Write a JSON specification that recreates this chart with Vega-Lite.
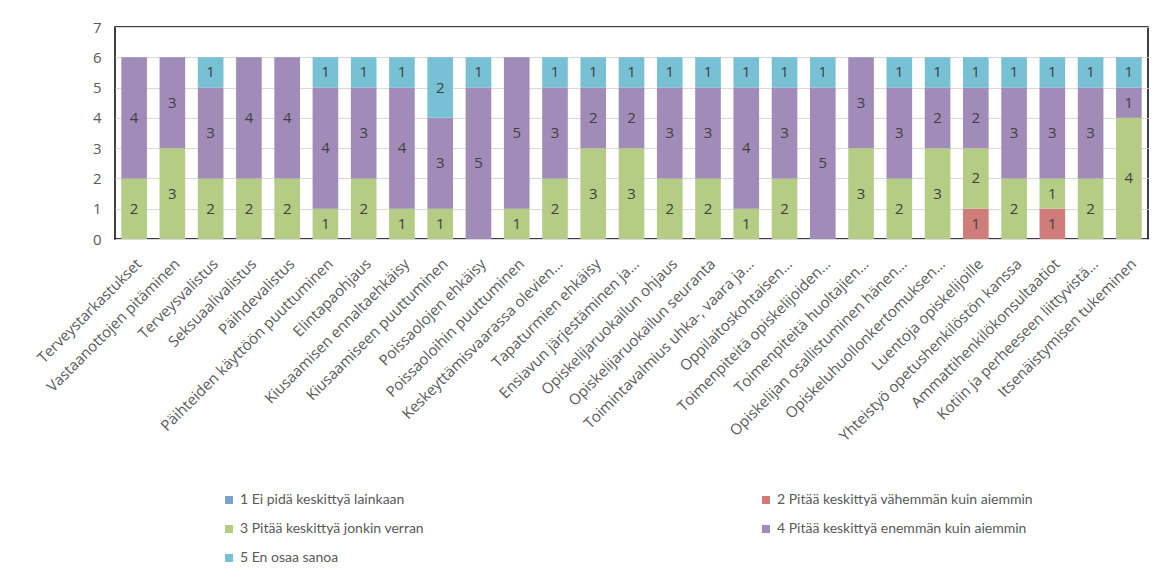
{
  "$schema": "https://vega.github.io/schema/vega-lite/v6.json",
  "autosize": "none",
  "width": 1033,
  "height": 212,
  "padding": {"left": 115, "top": 27, "right": 18, "bottom": 337},
  "background": "white",
  "config": {
    "font": "Open Sans",
    "view": {"stroke": "#000000", "strokeWidth": 1.5},
    "axis": {"labelFont": "Open Sans", "labelColor": "#595959"},
    "legend": {"labelFont": "Lato", "labelColor": "#595959"}
  },
  "data": {
    "values": [
      {"cat": "Terveystarkastukset", "code": 3, "value": 2},
      {"cat": "Terveystarkastukset", "code": 4, "value": 4},
      {"cat": "Vastaanottojen pitäminen", "code": 3, "value": 3},
      {"cat": "Vastaanottojen pitäminen", "code": 4, "value": 3},
      {"cat": "Terveysvalistus", "code": 3, "value": 2},
      {"cat": "Terveysvalistus", "code": 4, "value": 3},
      {"cat": "Terveysvalistus", "code": 5, "value": 1},
      {"cat": "Seksuaalivalistus", "code": 3, "value": 2},
      {"cat": "Seksuaalivalistus", "code": 4, "value": 4},
      {"cat": "Päihdevalistus", "code": 3, "value": 2},
      {"cat": "Päihdevalistus", "code": 4, "value": 4},
      {"cat": "Päihteiden käyttöön puuttuminen", "code": 3, "value": 1},
      {"cat": "Päihteiden käyttöön puuttuminen", "code": 4, "value": 4},
      {"cat": "Päihteiden käyttöön puuttuminen", "code": 5, "value": 1},
      {"cat": "Elintapaohjaus", "code": 3, "value": 2},
      {"cat": "Elintapaohjaus", "code": 4, "value": 3},
      {"cat": "Elintapaohjaus", "code": 5, "value": 1},
      {"cat": "Kiusaamisen ennaltaehkäisy", "code": 3, "value": 1},
      {"cat": "Kiusaamisen ennaltaehkäisy", "code": 4, "value": 4},
      {"cat": "Kiusaamisen ennaltaehkäisy", "code": 5, "value": 1},
      {"cat": "Kiusaamiseen puuttuminen", "code": 3, "value": 1},
      {"cat": "Kiusaamiseen puuttuminen", "code": 4, "value": 3},
      {"cat": "Kiusaamiseen puuttuminen", "code": 5, "value": 2},
      {"cat": "Poissaolojen ehkäisy", "code": 4, "value": 5},
      {"cat": "Poissaolojen ehkäisy", "code": 5, "value": 1},
      {"cat": "Poissaoloihin puuttuminen", "code": 3, "value": 1},
      {"cat": "Poissaoloihin puuttuminen", "code": 4, "value": 5},
      {"cat": "Keskeyttämisvaarassa olevien…", "code": 3, "value": 2},
      {"cat": "Keskeyttämisvaarassa olevien…", "code": 4, "value": 3},
      {"cat": "Keskeyttämisvaarassa olevien…", "code": 5, "value": 1},
      {"cat": "Tapaturmien ehkäisy", "code": 3, "value": 3},
      {"cat": "Tapaturmien ehkäisy", "code": 4, "value": 2},
      {"cat": "Tapaturmien ehkäisy", "code": 5, "value": 1},
      {"cat": "Ensiavun järjestäminen ja…", "code": 3, "value": 3},
      {"cat": "Ensiavun järjestäminen ja…", "code": 4, "value": 2},
      {"cat": "Ensiavun järjestäminen ja…", "code": 5, "value": 1},
      {"cat": "Opiskelijaruokailun ohjaus", "code": 3, "value": 2},
      {"cat": "Opiskelijaruokailun ohjaus", "code": 4, "value": 3},
      {"cat": "Opiskelijaruokailun ohjaus", "code": 5, "value": 1},
      {"cat": "Opiskelijaruokailun seuranta", "code": 3, "value": 2},
      {"cat": "Opiskelijaruokailun seuranta", "code": 4, "value": 3},
      {"cat": "Opiskelijaruokailun seuranta", "code": 5, "value": 1},
      {"cat": "Toimintavalmius uhka-, vaara ja…", "code": 3, "value": 1},
      {"cat": "Toimintavalmius uhka-, vaara ja…", "code": 4, "value": 4},
      {"cat": "Toimintavalmius uhka-, vaara ja…", "code": 5, "value": 1},
      {"cat": "Oppilaitoskohtaisen…", "code": 3, "value": 2},
      {"cat": "Oppilaitoskohtaisen…", "code": 4, "value": 3},
      {"cat": "Oppilaitoskohtaisen…", "code": 5, "value": 1},
      {"cat": "Toimenpiteitä opiskelijoiden…", "code": 4, "value": 5},
      {"cat": "Toimenpiteitä opiskelijoiden…", "code": 5, "value": 1},
      {"cat": "Toimenpiteitä huoltajien…", "code": 3, "value": 3},
      {"cat": "Toimenpiteitä huoltajien…", "code": 4, "value": 3},
      {"cat": "Opiskelijan osallistuminen hänen…", "code": 3, "value": 2},
      {"cat": "Opiskelijan osallistuminen hänen…", "code": 4, "value": 3},
      {"cat": "Opiskelijan osallistuminen hänen…", "code": 5, "value": 1},
      {"cat": "Opiskeluhuollonkertomuksen…", "code": 3, "value": 3},
      {"cat": "Opiskeluhuollonkertomuksen…", "code": 4, "value": 2},
      {"cat": "Opiskeluhuollonkertomuksen…", "code": 5, "value": 1},
      {"cat": "Luentoja opiskelijoille", "code": 2, "value": 1},
      {"cat": "Luentoja opiskelijoille", "code": 3, "value": 2},
      {"cat": "Luentoja opiskelijoille", "code": 4, "value": 2},
      {"cat": "Luentoja opiskelijoille", "code": 5, "value": 1},
      {"cat": "Yhteistyö opetushenkilöstön kanssa", "code": 3, "value": 2},
      {"cat": "Yhteistyö opetushenkilöstön kanssa", "code": 4, "value": 3},
      {"cat": "Yhteistyö opetushenkilöstön kanssa", "code": 5, "value": 1},
      {"cat": "Ammattihenkilökonsultaatiot", "code": 2, "value": 1},
      {"cat": "Ammattihenkilökonsultaatiot", "code": 3, "value": 1},
      {"cat": "Ammattihenkilökonsultaatiot", "code": 4, "value": 3},
      {"cat": "Ammattihenkilökonsultaatiot", "code": 5, "value": 1},
      {"cat": "Kotiin ja perheeseen liittyvistä…", "code": 3, "value": 2},
      {"cat": "Kotiin ja perheeseen liittyvistä…", "code": 4, "value": 3},
      {"cat": "Kotiin ja perheeseen liittyvistä…", "code": 5, "value": 1},
      {"cat": "Itsenäistymisen tukeminen", "code": 3, "value": 4},
      {"cat": "Itsenäistymisen tukeminen", "code": 4, "value": 1},
      {"cat": "Itsenäistymisen tukeminen", "code": 5, "value": 1}
    ]
  },
  "transform": [
    {"lookup": "code", "from": {"data": {"values": [
      {"code": 1, "vastaus": "1 Ei pidä keskittyä lainkaan"},
      {"code": 2, "vastaus": "2 Pitää keskittyä vähemmän kuin aiemmin"},
      {"code": 3, "vastaus": "3 Pitää keskittyä jonkin verran"},
      {"code": 4, "vastaus": "4 Pitää keskittyä enemmän kuin aiemmin"},
      {"code": 5, "vastaus": "5 En osaa sanoa"}
    ]}, "key": "code", "fields": ["vastaus"]}},
    {"stack": "value", "groupby": ["cat"], "sort": [{"field": "code", "order": "ascending"}], "as": ["y0", "y1"]},
    {"calculate": "(datum.y0 + datum.y1) / 2", "as": "ymid"}
  ],
  "encoding": {
    "x": {
      "field": "cat",
      "type": "nominal",
      "sort": null,
      "title": null,
      "scale": {"paddingInner": 0.33, "paddingOuter": 0.165},
      "axis": {"labelAngle": -45, "labelFontSize": 15, "labelLimit": 400, "ticks": false, "domain": false, "labelPadding": 17}
    }
  },
  "layer": [
    {
      "mark": {"type": "bar"},
      "encoding": {
        "y": {
          "field": "y0",
          "type": "quantitative",
          "title": null,
          "scale": {"domain": [0, 7], "nice": false},
          "axis": {"values": [0, 1, 2, 3, 4, 5, 6, 7], "labelOverlap": false, "grid": true, "gridColor": "#d9d9d9", "domain": false, "ticks": false, "labelFontSize": 15, "labelPadding": 14}
        },
        "y2": {"field": "y1"},
        "color": {
          "field": "vastaus",
          "type": "nominal",
          "title": null,
          "scale": {
            "domain": ["1 Ei pidä keskittyä lainkaan", "2 Pitää keskittyä vähemmän kuin aiemmin", "3 Pitää keskittyä jonkin verran", "4 Pitää keskittyä enemmän kuin aiemmin", "5 En osaa sanoa"],
            "range": ["#7ba1ce", "#d07c7a", "#b4cc83", "#a08bb9", "#78c1d5"]
          },
          "legend": {
            "orient": "none",
            "direction": "horizontal",
            "legendX": 107,
            "legendY": 466,
            "columns": 2,
            "columnPadding": 334,
            "rowPadding": 15,
            "symbolType": "square",
            "symbolSize": 64,
            "symbolStrokeWidth": 0,
            "labelFontSize": 14,
            "labelLimit": 500,
            "labelOffset": 4
          }
        }
      }
    },
    {
      "mark": {"type": "text", "fontSize": 15, "color": "#404040", "baseline": "middle", "align": "center"},
      "encoding": {
        "y": {
          "field": "ymid",
          "type": "quantitative",
          "title": null,
          "scale": {"domain": [0, 7], "nice": false},
          "axis": {"values": [0, 1, 2, 3, 4, 5, 6, 7], "labelOverlap": false, "grid": true, "gridColor": "#d9d9d9", "domain": false, "ticks": false, "labelFontSize": 15, "labelPadding": 14}
        },
        "text": {"field": "value", "type": "quantitative"}
      }
    }
  ]
}
